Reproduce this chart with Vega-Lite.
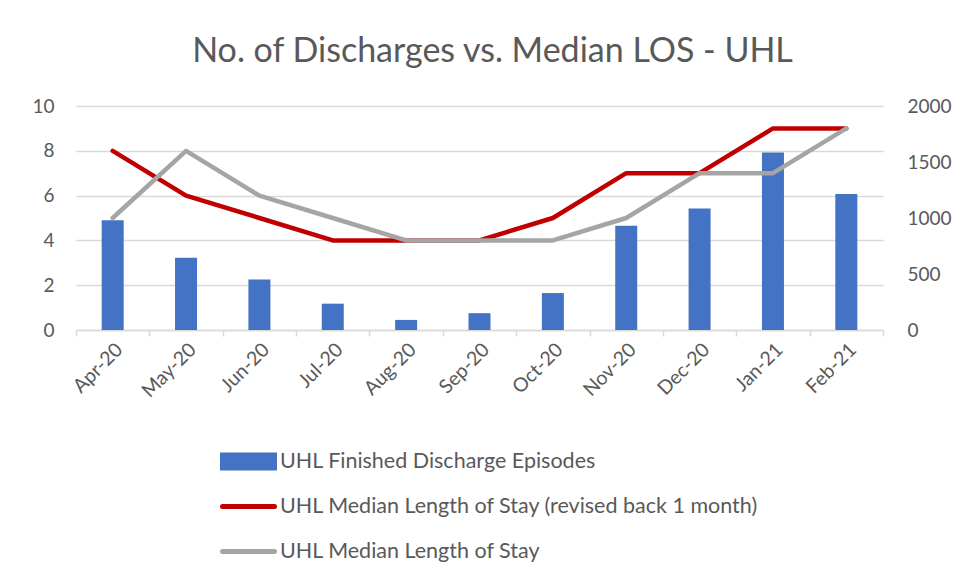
{
  "$schema": "https://vega.github.io/schema/vega-lite/v6.json",
  "autosize": "none",
  "width": 807,
  "height": 224,
  "padding": {"left": 76, "top": 106, "right": 76, "bottom": 245},
  "background": "white",
  "title": {
    "text": "No. of Discharges vs. Median LOS - UHL",
    "font": "Lato",
    "fontSize": 34,
    "fontWeight": "normal",
    "color": "#595959",
    "anchor": "middle",
    "frame": "group",
    "offset": 28,
    "dx": 13
  },
  "config": {
    "view": {"stroke": null},
    "font": "Lato",
    "axis": {"labelFont": "Lato", "labelFontSize": 19, "labelColor": "#595959", "titleFont": "Lato"},
    "legend": {"labelFont": "Lato"}
  },
  "data": {
    "values": [
      {"month": "Apr-20", "series": "UHL Finished Discharge Episodes", "value": 980},
      {"month": "May-20", "series": "UHL Finished Discharge Episodes", "value": 645},
      {"month": "Jun-20", "series": "UHL Finished Discharge Episodes", "value": 450},
      {"month": "Jul-20", "series": "UHL Finished Discharge Episodes", "value": 235},
      {"month": "Aug-20", "series": "UHL Finished Discharge Episodes", "value": 90},
      {"month": "Sep-20", "series": "UHL Finished Discharge Episodes", "value": 150},
      {"month": "Oct-20", "series": "UHL Finished Discharge Episodes", "value": 330},
      {"month": "Nov-20", "series": "UHL Finished Discharge Episodes", "value": 930},
      {"month": "Dec-20", "series": "UHL Finished Discharge Episodes", "value": 1085},
      {"month": "Jan-21", "series": "UHL Finished Discharge Episodes", "value": 1585},
      {"month": "Feb-21", "series": "UHL Finished Discharge Episodes", "value": 1215},
      {"month": "Apr-20", "series": "UHL Median Length of Stay (revised back 1 month)", "value": 8},
      {"month": "May-20", "series": "UHL Median Length of Stay (revised back 1 month)", "value": 6},
      {"month": "Jun-20", "series": "UHL Median Length of Stay (revised back 1 month)", "value": 5},
      {"month": "Jul-20", "series": "UHL Median Length of Stay (revised back 1 month)", "value": 4},
      {"month": "Aug-20", "series": "UHL Median Length of Stay (revised back 1 month)", "value": 4},
      {"month": "Sep-20", "series": "UHL Median Length of Stay (revised back 1 month)", "value": 4},
      {"month": "Oct-20", "series": "UHL Median Length of Stay (revised back 1 month)", "value": 5},
      {"month": "Nov-20", "series": "UHL Median Length of Stay (revised back 1 month)", "value": 7},
      {"month": "Dec-20", "series": "UHL Median Length of Stay (revised back 1 month)", "value": 7},
      {"month": "Jan-21", "series": "UHL Median Length of Stay (revised back 1 month)", "value": 9},
      {"month": "Feb-21", "series": "UHL Median Length of Stay (revised back 1 month)", "value": 9},
      {"month": "Apr-20", "series": "UHL Median Length of Stay", "value": 5},
      {"month": "May-20", "series": "UHL Median Length of Stay", "value": 8},
      {"month": "Jun-20", "series": "UHL Median Length of Stay", "value": 6},
      {"month": "Jul-20", "series": "UHL Median Length of Stay", "value": 5},
      {"month": "Aug-20", "series": "UHL Median Length of Stay", "value": 4},
      {"month": "Sep-20", "series": "UHL Median Length of Stay", "value": 4},
      {"month": "Oct-20", "series": "UHL Median Length of Stay", "value": 4},
      {"month": "Nov-20", "series": "UHL Median Length of Stay", "value": 5},
      {"month": "Dec-20", "series": "UHL Median Length of Stay", "value": 7},
      {"month": "Jan-21", "series": "UHL Median Length of Stay", "value": 7},
      {"month": "Feb-21", "series": "UHL Median Length of Stay", "value": 9}
    ]
  },
  "encoding": {
    "x": {
      "field": "month",
      "type": "ordinal",
      "sort": ["Apr-20", "May-20", "Jun-20", "Jul-20", "Aug-20", "Sep-20", "Oct-20", "Nov-20", "Dec-20", "Jan-21", "Feb-21"],
      "scale": {"paddingInner": 0, "paddingOuter": 0},
      "axis": {
        "title": null,
        "labelAngle": -45,
        "tickBand": "extent",
        "domainColor": "#D9D9D9",
        "domainWidth": 1.5,
        "tickColor": "#D9D9D9",
        "tickWidth": 1.5,
        "tickSize": 6,
        "labelPadding": 4,
        "labelFontSize": 19.5,
        "grid": false
      }
    },
    "color": {
      "field": "series",
      "type": "nominal",
      "scale": {
        "domain": ["UHL Finished Discharge Episodes", "UHL Median Length of Stay (revised back 1 month)", "UHL Median Length of Stay"],
        "range": ["#4472C4", "#C00000", "#A5A5A5"]
      },
      "legend": {
        "title": null,
        "orient": "none",
        "legendX": 144,
        "legendY": 327,
        "direction": "vertical",
        "padding": 0,
        "labelFontSize": 21.5,
        "labelColor": "#595959",
        "labelOffset": 3,
        "labelLimit": 700,
        "symbolSize": 2704,
        "rowPadding": -6,
        "encode": {
          "symbols": {
            "update": {
              "shape": {"signal": "datum.value === 'UHL Finished Discharge Episodes' ? 'M-1,-0.25H1V0.25H-1Z' : 'M-1,-0.25M-1,0.25M-1,0H1'"},
              "fill": {"signal": "datum.value === 'UHL Finished Discharge Episodes' ? '#4472C4' : 'transparent'"},
              "stroke": {"signal": "datum.value === 'UHL Finished Discharge Episodes' ? 'transparent' : (datum.value === 'UHL Median Length of Stay' ? '#A5A5A5' : '#C00000')"},
              "strokeWidth": {"value": 5},
              "strokeCap": {"value": "round"},
              "size": {"value": 2704},
              "opacity": {"value": 1}
            }
          }
        }
      }
    }
  },
  "layer": [
    {
      "transform": [{"filter": "datum.series === 'UHL Finished Discharge Episodes'"}],
      "mark": {"type": "bar", "width": {"band": 0.3}},
      "encoding": {
        "y": {
          "field": "value",
          "type": "quantitative",
          "scale": {"domain": [0, 2000]},
          "axis": {
            "orient": "right",
            "title": null,
            "values": [0, 500, 1000, 1500, 2000],
            "format": "d",
            "domain": false,
            "ticks": false,
            "grid": false,
            "labelPadding": 24
          }
        }
      }
    },
    {
      "transform": [{"filter": "datum.series !== 'UHL Finished Discharge Episodes'"}],
      "mark": {"type": "line", "strokeWidth": 4.5, "strokeCap": "round", "strokeJoin": "round"},
      "encoding": {
        "y": {
          "field": "value",
          "type": "quantitative",
          "scale": {"domain": [0, 10]},
          "axis": {
            "orient": "left",
            "title": null,
            "values": [0, 2, 4, 6, 8, 10],
            "domain": false,
            "ticks": false,
            "grid": true,
            "gridColor": "#D9D9D9",
            "gridWidth": 1.5,
            "labelPadding": 22
          }
        }
      }
    }
  ],
  "resolve": {"scale": {"y": "independent"}}
}
